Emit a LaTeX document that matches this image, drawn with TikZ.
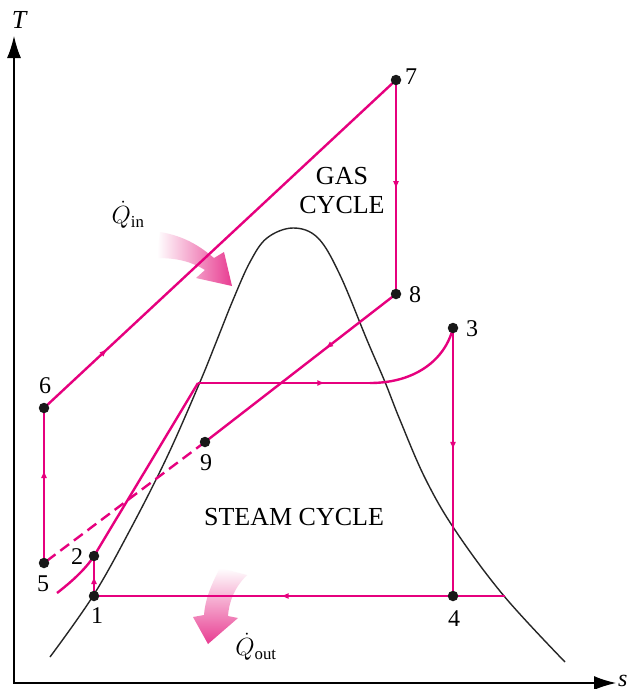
\documentclass[tikz,border=0pt]{standalone}
\usepackage{fontspec}
\setmainfont{Liberation Serif}
\usepackage{amsmath}
\usetikzlibrary{arrows.meta,decorations.markings}
\definecolor{pk}{RGB}{230,0,126}
\definecolor{pkl}{RGB}{232,60,145}
\begin{document}
\begin{tikzpicture}[x=1pt,y=-1pt,
  cyc/.style={draw=pk,line width=2.4pt},
  dome/.style={draw=black!85,line width=1.4pt},
  axis/.style={draw=black,line width=1.3pt},
  dot/.style={circle,fill=black!90,inner sep=0pt,minimum size=10.5pt},
  lab/.style={font=\fontsize{24}{28}\selectfont,inner sep=0pt},
  big/.style={font=\fontsize{26}{29}\selectfont,align=center,inner sep=0pt},
  midarr/.style={postaction={decorate,decoration={markings,mark=at position #1 with {\arrow{Latex[length=8pt,width=6pt]}}}}}
]
\useasboundingbox (0,0) rectangle (627,689);
\fill[white] (0,0) rectangle (627,689);

% heat arrows (drawn first)
\shade[left color=white,right color=pkl]
  (160,232) .. controls (185,236) and (201,247) .. (214,258)
  -- (224,252) -- (232,286) -- (196,278) -- (205,270)
  .. controls (192,262) and (178,258) .. (157,258) -- cycle;
\shade[top color=white,bottom color=pkl]
  (220,568) .. controls (211,585) and (205,600) .. (204,615)
  -- (193,617) -- (208,644) -- (238,618) -- (228,616)
  .. controls (229,602) and (234,588) .. (247,575) -- cycle;

% axes
\coordinate (ty) at (14,36);
\coordinate (o) at (14,683);
\coordinate (sx) at (616,683);
\draw[axis,{Latex[length=22pt,width=14pt]}-{Latex[length=22pt,width=14pt]}] (ty) -- (o) -- (sx);
\node[font=\fontsize{26}{28}\selectfont\itshape,inner sep=0pt] (tl) at (19,20) {T};
\node[font=\fontsize{24}{28}\selectfont\itshape,inner sep=0pt,anchor=west] (sl) at (618,681) {s};

% dome
\draw[dome] plot[smooth,tension=0.6] coordinates {(50,657) (93,596) (130,530) (167,457) (200,382) (217,340) (233,300) (250,262) (267,238) (293,228) (318,238) (340,275) (367,340) (385,382) (400,420) (425,478) (455,530) (504,596) (565,662)};

% state points
\coordinate (c1) at (94,596);
\coordinate (c2) at (94,556);
\coordinate (c3) at (453,328);
\coordinate (c4) at (453,596);
\coordinate (c5) at (44,563);
\coordinate (c6) at (44,408);
\coordinate (c7) at (396,80);
\coordinate (c8) at (396,294);
\coordinate (c9) at (205,442);
\coordinate (e4) at (505,596);
\coordinate (sl0) at (57,593);
\coordinate (sl1) at (198,383);
\coordinate (sv0) at (370,383);

% gas cycle
\draw[cyc,midarr=0.6] (c5) -- (c6);
\draw[cyc,midarr=0.18] (c6) -- (c7);
\draw[cyc,midarr=0.51] (c7) -- (c8);
\draw[cyc,midarr=0.37] (c8) -- (c9);
\draw[cyc,dash pattern=on 11pt off 6pt] (c9) -- (c5);

% steam cycle
\draw[cyc,midarr=0.5] (c1) -- (c2);
\draw[cyc] (sl0) .. controls (70,583) and (85,570) .. (c2) -- (sl1);
\draw[cyc,midarr=0.74] (sl1) -- (sv0);
\draw[cyc] (sv0) .. controls (415,383) and (445,360) .. (c3);
\draw[cyc,midarr=0.455] (c3) -- (c4);
\draw[cyc,midarr=0.546] (e4) -- (c1);

% dots
\foreach \i in {1,...,9} {\node[dot] (d\i) at (c\i) {};}

% labels
\node[lab] (l1) at (97,616) {1};
\node[lab] (l2) at (77,557) {2};
\node[lab] (l3) at (472,329) {3};
\node[lab] (l4) at (454,619) {4};
\node[lab] (l5) at (43,584) {5};
\node[lab] (l6) at (45,386) {6};
\node[lab] (l7) at (411,77) {7};
\node[lab] (l8) at (415,295) {8};
\node[lab] (l9) at (206,463) {9};

\node[big] (gas) at (342,191) {GAS\\CYCLE};
\node[big] (steam) at (294,517) {STEAM CYCLE};
\node[lab] (qin) at (128,215) {$\dot{Q}_{\text{in}}$};
\node[lab] (qout) at (256,647) {$\dot{Q}_{\text{out}}$};
\end{tikzpicture}
\end{document}
